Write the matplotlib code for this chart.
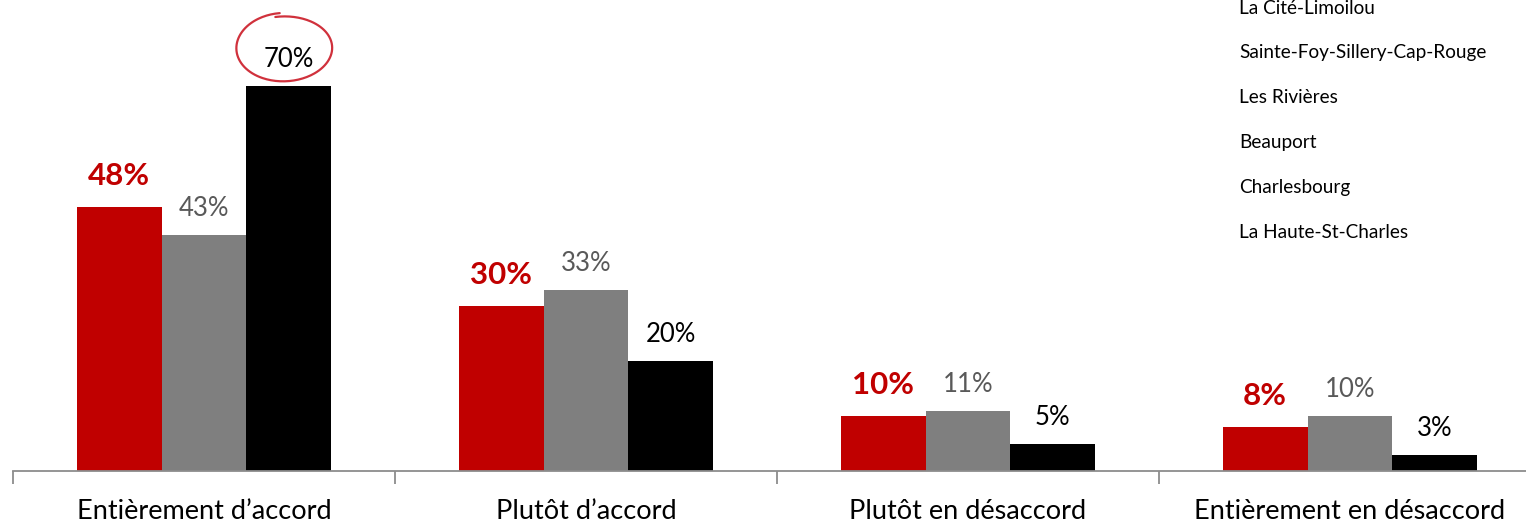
import numpy as np
import matplotlib
matplotlib.use("Agg")
import matplotlib.pyplot as plt

# data
categories = ["Entièrement d\u2019accord", "Plutôt d\u2019accord",
              "Plutôt en désaccord", "Entièrement en désaccord"]
red_vals = [48, 30, 10, 8]
gray_vals = [43, 33, 11, 10]
black_vals = [70, 20, 5, 3]
legend_names = ["La Cité-Limoilou", "Sainte-Foy-Sillery-Cap-Rouge", "Les Rivières",
                "Beauport", "Charlesbourg", "La Haute-St-Charles"]

RED = "#C00000"
GRAY = "#7F7F7F"
BLACK = "#000000"
FONT = "Lato"

W, H = 1526, 522
PX = 5.5  # pixels per percent
fig = plt.figure(figsize=(W / 100, H / 100), dpi=100)
# axes spans 4 categories of ~382px starting at x=13; baseline at y=471
ax = fig.add_axes([13 / W, (H - 471) / H, 1528 / W, 471 / H])
ax.set_xlim(0, 4)
ax.set_ylim(0, 471 / PX)

x = np.arange(len(categories)) + 0.5
bw = 0.222
series = [(red_vals, RED), (gray_vals, GRAY), (black_vals, BLACK)]
for i, (vals, col) in enumerate(series):
    xs = x + (i - 1) * bw
    ax.bar(xs, vals, width=bw, color=col, linewidth=0)
    for xi, v in zip(xs, vals):
        if col == RED:
            ax.annotate(f"{v}%", (xi, v), xytext=(0, 22.5), textcoords="offset points",
                        ha="center", va="center", fontsize=22.5, fontweight="bold",
                        color=RED, family=FONT)
        else:
            tc = "#595959" if col == GRAY else "#000000"
            ax.annotate(f"{v}%", (xi, v), xytext=(0, 19), textcoords="offset points",
                        ha="center", va="center", fontsize=18.5, color=tc, family=FONT)

# hand-drawn circle around the highest value
cx, cy = x[0] + bw - 5 / 382, 423 / PX
t = np.linspace(np.deg2rad(95), np.deg2rad(460), 200)
f = (t - t[0]) / (t[-1] - t[0])
rx = 47 / 382 * (1 + 0.04 * f)
ry = 35 / PX * (1 - 0.1 * f)
ax.plot(cx + rx * np.cos(t), cy + ry * np.sin(t), color="#D0313C", lw=1.6,
        solid_capstyle="round", clip_on=False)

for s in ["top", "right", "left"]:
    ax.spines[s].set_visible(False)
ax.spines["bottom"].set_color("#8C8C8C")
ax.spines["bottom"].set_linewidth(1.3)
ax.set_yticks([])
ax.set_xticks([0, 1, 2, 3, 4])
ax.set_xticklabels([])
ax.tick_params(axis="x", direction="out", length=9, width=1.3, color="#8C8C8C")
for xi, c in zip(x, categories):
    ax.annotate(c, (xi, 0), xytext=(0, -29.5), textcoords="offset points",
                ha="center", va="center", fontsize=19.5, family=FONT)

# text-only legend
for k, name in enumerate(legend_names):
    fig.text(1239 / W, 1 - (8 + 44.8 * k) / H, name, ha="left", va="center",
             fontsize=13.7, family=FONT)

fig.savefig("out.png", dpi=100)
